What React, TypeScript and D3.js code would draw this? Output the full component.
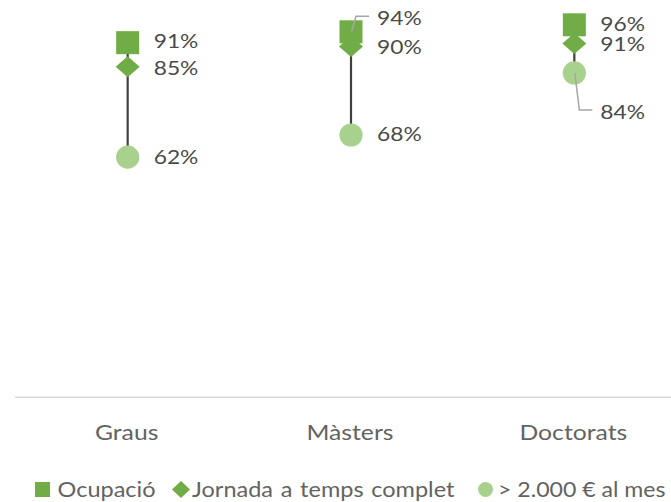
import React from "react";
import * as d3 from "d3";

const categories = ["Graus", "Màsters", "Doctorats"];
const occupation = [0.914, 0.942, 0.96];
const fullTime = [0.852, 0.904, 0.912];
const salary = [0.619, 0.676, 0.836];
const seriesNames = ["Ocupació", "Jornada a temps complet", "> 2.000 € al mes"];

const W = 671;
const H = 502;
const DARK = "#70ad47";
const LIGHT = "#a9d18e";
const FONT = "Lato, 'Open Sans', sans-serif";
const WEIGHT = 400;

// label displacement (manual label placement, like the original)
const labelShift = {
  occ: [-2, -14, -1],
  full: [1.5, 0, 1],
  sal: [0, -1, 38.6],
};

export default function App() {
  const x = d3.scaleBand<string>().domain(categories).range([16, 686]).padding(0);
  const y = d3.scaleLinear().domain([0, 1]).range([397.3, 9.3]);
  const cx = (c: string) => (x(c) as number) + x.bandwidth() / 2;
  const fmt = d3.format(".0%");
  const diamond = (px: number, py: number, hw: number, hh: number) =>
    `M${px},${py - hh}L${px + hw},${py}L${px},${py + hh}L${px - hw},${py}Z`;
  const labelX = 26;
  const textSX = 1.2;

  const label = (c: string, v: number, dy: number, key: string) => (
    <text
      key={key}
      transform={`translate(${cx(c) + labelX},${y(v) + dy + 7}) scale(${textSX},1)`}
      fontSize={19}
      fontWeight={WEIGHT}
      fill="#4a4a4a"
      fontFamily={FONT}
    >
      {fmt(v)}
    </text>
  );

  const leader = (c: string, v: number, dy: number, key: string) => {
    const x0 = cx(c);
    const y0 = y(v);
    const ly = y(v) + dy - 1.5;
    const pts: [number, number][] = [
      [x0 + 0.5, y0],
      [x0 + 5, ly],
      [x0 + labelX - 8, ly],
    ];
    return (
      <path
        key={key}
        d={d3.line()(pts) as string}
        fill="none"
        stroke="#a6a6a6"
        strokeWidth={1.5}
      />
    );
  };

  return (
    <svg
      width={W}
      height={H}
      style={{ position: "fixed", left: 0, top: 0, background: "#fff" }}
    >
      <rect width={W} height={H} fill="#fff" />
      {/* axis line */}
      <line x1={15} x2={W} y1={y(0)} y2={y(0)} stroke="#d9d9d9" strokeWidth={1.5} />
      {categories.map((c) => (
        <text
          key={"ax" + c}
          transform={`translate(${cx(c) - 1},${440}) scale(1.15,1)`}
          textAnchor="middle"
          fontSize={21.5}
          fontWeight={WEIGHT}
          fill="#636363"
          fontFamily={FONT}
        >
          {c}
        </text>
      ))}
      {/* range lines */}
      {categories.map((c, i) => (
        <line
          key={"rl" + c}
          x1={cx(c)}
          x2={cx(c)}
          y1={y(occupation[i])}
          y2={y(salary[i])}
          stroke="#404040"
          strokeWidth={2.2}
        />
      ))}
      {/* squares */}
      {categories.map((c, i) => (
        <rect
          key={"sq" + c}
          x={cx(c) - 11.5}
          y={y(occupation[i]) - 11.5}
          width={23}
          height={23}
          fill={DARK}
        />
      ))}
      {/* diamonds */}
      {categories.map((c, i) => (
        <path key={"dm" + c} d={diamond(cx(c), y(fullTime[i]), 12, 10.5)} fill={DARK} />
      ))}
      {/* circles */}
      {categories.map((c, i) => (
        <circle key={"ci" + c} cx={cx(c)} cy={y(salary[i])} r={11.6} fill={LIGHT} />
      ))}
      {/* leader lines */}
      {categories.map((c, i) =>
        Math.abs(labelShift.occ[i]) > 8 ? leader(c, occupation[i], labelShift.occ[i], "lo" + c) : null
      )}
      {categories.map((c, i) =>
        Math.abs(labelShift.sal[i]) > 8 ? leader(c, salary[i], labelShift.sal[i], "ls" + c) : null
      )}
      {/* labels */}
      {categories.map((c, i) => label(c, occupation[i], labelShift.occ[i], "l1" + c))}
      {categories.map((c, i) => label(c, fullTime[i], labelShift.full[i], "l2" + c))}
      {categories.map((c, i) => label(c, salary[i], labelShift.sal[i], "l3" + c))}
      {/* legend */}
      <g fontFamily={FONT} fontSize={21} fontWeight={WEIGHT} fill="#636363">
        <rect x={35} y={482} width={15} height={15} fill={DARK} />
        <text transform={`translate(57.5,497) scale(1.12,1)`}>{seriesNames[0]}</text>
        <path d={diamond(181, 489.5, 9, 8.5)} fill={DARK} />
        <text transform={`translate(192,497) scale(1.12,1)`} wordSpacing={1.5}>
          {seriesNames[1]}
        </text>
        <circle cx={485.5} cy={489.5} r={7.5} fill={LIGHT} />
        <text transform={`translate(498,497) scale(1.1,1)`}>{seriesNames[2]}</text>
      </g>
    </svg>
  );
}
